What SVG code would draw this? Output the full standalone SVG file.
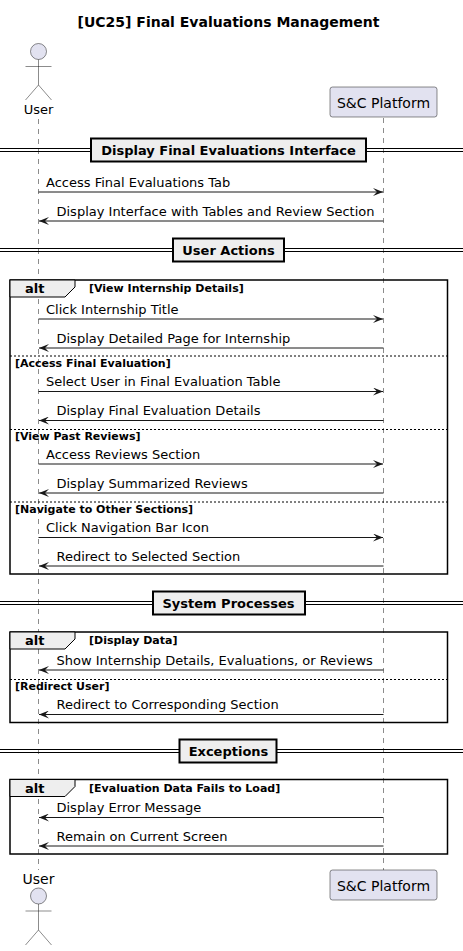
<svg xmlns="http://www.w3.org/2000/svg" width="463" height="951" viewBox="0 0 463 951">
<style>
text{font-family:"DejaVu Sans",sans-serif;fill:#000}
.t{font-size:14px;font-weight:bold}
.m{font-size:13px}
.d{font-size:13px;font-weight:bold}
.g{font-size:11px;font-weight:bold}
.life{stroke:#181818;stroke-width:0.5;stroke-dasharray:5,5;fill:none}
.act{fill:#E2E2F0;stroke:#181818;stroke-width:0.5}
.aline{stroke:#181818;stroke-width:0.5;fill:none}
.msg{stroke:#181818;stroke-width:1;fill:none}
.dbox{fill:#EEEEEE;stroke:#000;stroke-width:2}
.dl{stroke:#000;stroke-width:1}
.frame{fill:none;stroke:#000;stroke-width:1.5}
.tab{fill:#EEEEEE;stroke:#000;stroke-width:1}
.sep{stroke:#000;stroke-width:1;stroke-dasharray:2,2}
</style>
<defs>
<marker id="ah" viewBox="0 0 10 8" refX="10" refY="4" markerWidth="10" markerHeight="8" markerUnits="userSpaceOnUse" orient="auto">
<polygon points="0,0 10,4 0,8 4,4" fill="#181818"/>
</marker>
</defs>
<rect width="463" height="951" fill="#fff"/>
<text class="t" x="228.5" y="27" text-anchor="middle">[UC25] Final Evaluations Management</text>

<g id="lifelines">
<line class="life" x1="38.5" y1="119" x2="38.5" y2="870"/>
<line class="life" x1="383.5" y1="118" x2="383.5" y2="870"/>
</g>

<g id="user-top">
<circle class="act" cx="38.5" cy="51.5" r="8"/>
<path class="aline" d="M38.5,59.5 V85 M25.5,66.5 H51.5 M25.5,100 L38.5,85 L51.5,100"/>
<text class="m" x="38.5" y="114" text-anchor="middle" font-size="14">User</text>
</g>
<g id="platform-top">
<rect class="act" x="330" y="87" width="107" height="30" rx="2.5"/>
<text class="m" x="383.5" y="108" text-anchor="middle" style="font-size:14px">S&amp;C Platform</text>
</g>
<g id="user-bottom">
<text class="m" x="38.5" y="884" text-anchor="middle" style="font-size:14px">User</text>
<circle class="act" cx="38.5" cy="896" r="8"/>
<path class="aline" d="M38.5,904 V930 M25.5,911 H51.5 M25.5,945 L38.5,930 L51.5,945"/>
</g>
<g id="platform-bottom">
<rect class="act" x="330" y="870" width="107" height="30" rx="2.5"/>
<text class="m" x="383.5" y="891" text-anchor="middle" style="font-size:14px">S&amp;C Platform</text>
</g>

<g id="divider1">
<line class="dl" x1="0" y1="148.5" x2="463" y2="148.5"/>
<line class="dl" x1="0" y1="151.5" x2="463" y2="151.5"/>
<rect class="dbox" x="91" y="138.5" width="275" height="23"/>
<text class="d" x="228.5" y="155" text-anchor="middle">Display Final Evaluations Interface</text>
</g>
<g id="divider2">
<line class="dl" x1="0" y1="248.5" x2="463" y2="248.5"/>
<line class="dl" x1="0" y1="251.5" x2="463" y2="251.5"/>
<rect class="dbox" x="173" y="238.5" width="111" height="23"/>
<text class="d" x="228.5" y="255" text-anchor="middle">User Actions</text>
</g>
<g id="divider3">
<line class="dl" x1="0" y1="601.5" x2="463" y2="601.5"/>
<line class="dl" x1="0" y1="604.5" x2="463" y2="604.5"/>
<rect class="dbox" x="153" y="591.5" width="152" height="23"/>
<text class="d" x="228.5" y="608" text-anchor="middle">System Processes</text>
</g>
<g id="divider4">
<line class="dl" x1="0" y1="749.5" x2="463" y2="749.5"/>
<line class="dl" x1="0" y1="752.5" x2="463" y2="752.5"/>
<rect class="dbox" x="179.5" y="739.5" width="97" height="23"/>
<text class="d" x="228.5" y="756" text-anchor="middle">Exceptions</text>
</g>

<g id="alt1">
<rect class="frame" x="10" y="280" width="437.5" height="294"/>
<polygon class="tab" points="10,280 75,280 75,287 65,297 10,297"/>
<text class="d" x="25" y="293">alt</text>
<text class="g" x="89" y="292">[View Internship Details]</text>
<line class="sep" x1="10" y1="356" x2="447.5" y2="356"/>
<text class="g" x="15" y="367">[Access Final Evaluation]</text>
<line class="sep" x1="10" y1="429.5" x2="447.5" y2="429.5"/>
<text class="g" x="15" y="440">[View Past Reviews]</text>
<line class="sep" x1="10" y1="502" x2="447.5" y2="502"/>
<text class="g" x="15" y="513">[Navigate to Other Sections]</text>
</g>
<g id="alt2">
<rect class="frame" x="10" y="632" width="437.5" height="90.5"/>
<polygon class="tab" points="10,632 75,632 75,639 65,649 10,649"/>
<text class="d" x="25" y="645">alt</text>
<text class="g" x="89" y="644">[Display Data]</text>
<line class="sep" x1="10" y1="679.5" x2="447.5" y2="679.5"/>
<text class="g" x="15" y="690">[Redirect User]</text>
</g>
<g id="alt3">
<rect class="frame" x="10" y="779.5" width="437.5" height="74.5"/>
<polygon class="tab" points="10,779.5 75,779.5 75,786.5 65,796.5 10,796.5"/>
<text class="d" x="25" y="792.5">alt</text>
<text class="g" x="89" y="792">[Evaluation Data Fails to Load]</text>
</g>

<g id="connectors">
<line class="msg" x1="38.5" y1="192" x2="383" y2="192" marker-end="url(#ah)"/>
<text class="m" x="46" y="187">Access Final Evaluations Tab</text>
<line class="msg" x1="383.5" y1="221" x2="39" y2="221" marker-end="url(#ah)"/>
<text class="m" x="56.5" y="216">Display Interface with Tables and Review Section</text>

<line class="msg" x1="38.5" y1="319" x2="383" y2="319" marker-end="url(#ah)"/>
<text class="m" x="46" y="314">Click Internship Title</text>
<line class="msg" x1="383.5" y1="348" x2="39" y2="348" marker-end="url(#ah)"/>
<text class="m" x="56.5" y="343">Display Detailed Page for Internship</text>

<line class="msg" x1="38.5" y1="391.5" x2="383" y2="391.5" marker-end="url(#ah)"/>
<text class="m" x="46" y="386">Select User in Final Evaluation Table</text>
<line class="msg" x1="383.5" y1="420.5" x2="39" y2="420.5" marker-end="url(#ah)"/>
<text class="m" x="56.5" y="415">Display Final Evaluation Details</text>

<line class="msg" x1="38.5" y1="464" x2="383" y2="464" marker-end="url(#ah)"/>
<text class="m" x="46" y="459">Access Reviews Section</text>
<line class="msg" x1="383.5" y1="493" x2="39" y2="493" marker-end="url(#ah)"/>
<text class="m" x="56.5" y="488">Display Summarized Reviews</text>

<line class="msg" x1="38.5" y1="537.5" x2="383" y2="537.5" marker-end="url(#ah)"/>
<text class="m" x="46" y="532">Click Navigation Bar Icon</text>
<line class="msg" x1="383.5" y1="566" x2="39" y2="566" marker-end="url(#ah)"/>
<text class="m" x="56.5" y="561">Redirect to Selected Section</text>

<line class="msg" x1="383.5" y1="670" x2="39" y2="670" marker-end="url(#ah)"/>
<text class="m" x="56.5" y="665">Show Internship Details, Evaluations, or Reviews</text>
<line class="msg" x1="383.5" y1="714.5" x2="39" y2="714.5" marker-end="url(#ah)"/>
<text class="m" x="56.5" y="709">Redirect to Corresponding Section</text>

<line class="msg" x1="383.5" y1="817.5" x2="39" y2="817.5" marker-end="url(#ah)"/>
<text class="m" x="56.5" y="812">Display Error Message</text>
<line class="msg" x1="383.5" y1="846" x2="39" y2="846" marker-end="url(#ah)"/>
<text class="m" x="56.5" y="841">Remain on Current Screen</text>
</g>
</svg>
